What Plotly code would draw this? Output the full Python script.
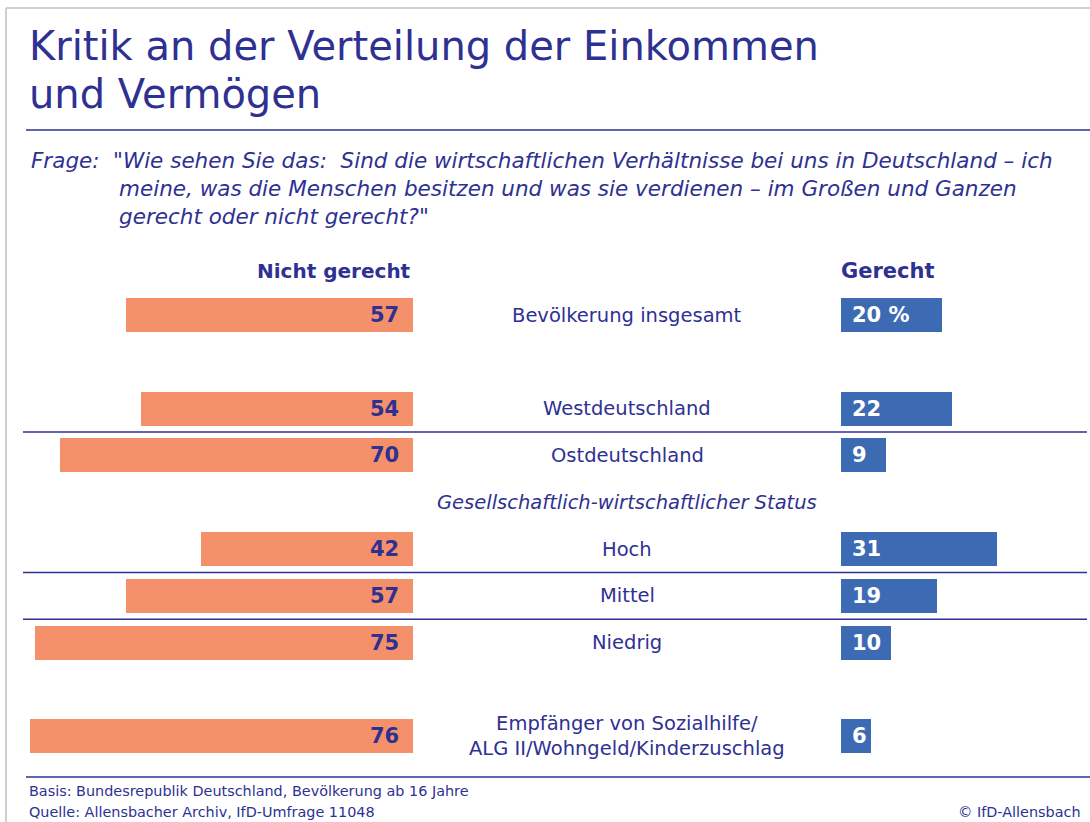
import plotly.graph_objects as go

W, H = 1090, 822

# ---- data ----
rows = [
    "Bevölkerung insgesamt",
    " ",
    "Westdeutschland",
    "Ostdeutschland",
    "<i>Gesellschaftlich-wirtschaftlicher Status</i>",
    "Hoch",
    "Mittel",
    "Niedrig",
    "  ",
    "Empfänger von Sozialhilfe/<br>ALG II/Wohngeld/Kinderzuschlag",
]
groups = [
    "Bevölkerung insgesamt",
    "Westdeutschland",
    "Ostdeutschland",
    "Hoch",
    "Mittel",
    "Niedrig",
    "Empfänger von Sozialhilfe/<br>ALG II/Wohngeld/Kinderzuschlag",
]
nicht_gerecht = [57, 54, 70, 42, 57, 75, 76]
gerecht = [20, 22, 9, 31, 19, 10, 6]
gerecht_labels = ["20 %", "22", "9", "31", "19", "10", "6"]

title_lines = ["Kritik an der Verteilung der Einkommen", "und Vermögen"]

NAVY = "#2E3192"
ORANGE = "#F5916A"
BLUE = "#3D6BB3"
FONT = "DejaVu Sans"

def py(px):
    return 1 - px / H

def pxx(px):
    return px / W

fig = go.Figure()

fig.add_trace(go.Bar(
    y=groups, x=nicht_gerecht, orientation="h", xaxis="x", yaxis="y",
    marker=dict(color=ORANGE, line=dict(width=0)), width=0.727,
    hoverinfo="skip", showlegend=False,
))
fig.add_trace(go.Bar(
    y=groups, x=gerecht, orientation="h", xaxis="x2", yaxis="y",
    marker=dict(color=BLUE, line=dict(width=0)), width=0.727,
    hoverinfo="skip", showlegend=False,
))

ann = []
# value labels
for g, v in zip(groups, nicht_gerecht):
    ann.append(dict(x=0, y=g, xref="x", yref="y", text=f"<b>{v}</b>",
                    xanchor="right", yanchor="middle", xshift=-12, showarrow=False,
                    font=dict(family=FONT, size=21, color=NAVY)))
for g, t in zip(groups, gerecht_labels):
    ann.append(dict(x=0, y=g, xref="x2", yref="y", text=f"<b>{t}</b>",
                    xanchor="left", yanchor="middle", xshift=9, showarrow=False,
                    font=dict(family=FONT, size=21, color="white")))
# row labels in the middle
for r in rows:
    if r.strip():
        ann.append(dict(x=pxx(627), y=r, xref="paper", yref="y", text=r,
                        xanchor="center", yanchor="middle", showarrow=False,
                        font=dict(family=FONT, size=19.5, color=NAVY)))

# title and question
for i, t in enumerate(title_lines):
    ann.append(dict(x=pxx(27), y=py(46 + 48 * i), xref="paper", yref="paper",
                    text=t, xanchor="left", yanchor="middle", align="left", showarrow=False,
                    font=dict(family=FONT, size=40, color=NAVY)))
ann.append(dict(x=pxx(29), y=py(160), xref="paper", yref="paper",
                text="<i>Frage:</i>", xanchor="left", yanchor="middle", showarrow=False,
                font=dict(family=FONT, size=21.5, color=NAVY)))
q_lines = [
    "\"Wie sehen Sie das:  Sind die wirtschaftlichen Verhältnisse bei uns in Deutschland – ich",
    "meine, was die Menschen besitzen und was sie verdienen – im Großen und Ganzen",
    "gerecht oder nicht gerecht?\"",
]
for i, (line, x0) in enumerate(zip(q_lines, [111, 117, 117])):
    ann.append(dict(x=pxx(x0), y=py(160 + 28.5 * i), xref="paper", yref="paper",
                    text=f"<i>{line}</i>", xanchor="left", yanchor="middle", showarrow=False,
                    font=dict(family=FONT, size=21.5, color=NAVY)))

# column headers
ann.append(dict(x=pxx(413), y=py(271), xref="paper", yref="paper",
                text="<b>Nicht gerecht</b>", xanchor="right", yanchor="middle", showarrow=False,
                font=dict(family=FONT, size=20, color=NAVY)))
ann.append(dict(x=pxx(839), y=py(271), xref="paper", yref="paper",
                text="<b>Gerecht</b>", xanchor="left", yanchor="middle", showarrow=False,
                font=dict(family=FONT, size=21, color=NAVY)))

# footer
ann.append(dict(x=pxx(27), y=py(791), xref="paper", yref="paper",
                text="Basis: Bundesrepublik Deutschland, Bevölkerung ab 16 Jahre",
                xanchor="left", yanchor="middle", showarrow=False,
                font=dict(family=FONT, size=14.4, color=NAVY)))
ann.append(dict(x=pxx(27), y=py(812), xref="paper", yref="paper",
                text="Quelle: Allensbacher Archiv, IfD-Umfrage 11048",
                xanchor="left", yanchor="middle", showarrow=False,
                font=dict(family=FONT, size=14.4, color=NAVY)))
ann.append(dict(x=pxx(1083), y=py(812), xref="paper", yref="paper",
                text="© IfD-Allensbach",
                xanchor="right", yanchor="middle", showarrow=False,
                font=dict(family=FONT, size=14.4, color=NAVY)))

shapes = []
# frame
shapes.append(dict(type="line", xref="paper", yref="paper", x0=pxx(6), x1=pxx(6), y0=py(8), y1=0,
                   line=dict(color="#CFCFCF", width=2)))
shapes.append(dict(type="line", xref="paper", yref="paper", x0=pxx(6), x1=1, y0=py(8), y1=py(8),
                   line=dict(color="#CFCFCF", width=2)))
# title rule and footer rule
for ypx in (130, 777):
    shapes.append(dict(type="line", xref="paper", yref="paper", x0=pxx(26), x1=1, y0=py(ypx), y1=py(ypx),
                       line=dict(color=NAVY, width=1.5)))
# separators between rows
for yv in (2.5, 5.5, 6.5):
    shapes.append(dict(type="line", xref="paper", yref="y", x0=pxx(23), x1=pxx(1087), y0=yv, y1=yv,
                       line=dict(color=NAVY, width=1.5)))

top_idx = -315 / 46.8
bot_idx = (H - 315) / 46.8

fig.update_layout(
    width=W, height=H,
    margin=dict(l=0, r=0, t=0, b=0),
    paper_bgcolor="white", plot_bgcolor="rgba(0,0,0,0)",
    bargap=0,
    xaxis=dict(domain=[0, pxx(413)], range=[413 / 5.04, 0], visible=False, fixedrange=True),
    xaxis2=dict(domain=[pxx(841), 1], range=[0, (W - 841) / 5.04], visible=False, fixedrange=True,
                anchor="y"),
    yaxis=dict(domain=[0, 1], type="category", categoryarray=rows, categoryorder="array",
               range=[bot_idx, top_idx], visible=False, fixedrange=True),
    annotations=ann,
    shapes=shapes,
)

fig.write_html("out.html", config={"displayModeBar": False},
               post_script="document.body.style.margin='0';document.body.style.overflow='hidden';")
